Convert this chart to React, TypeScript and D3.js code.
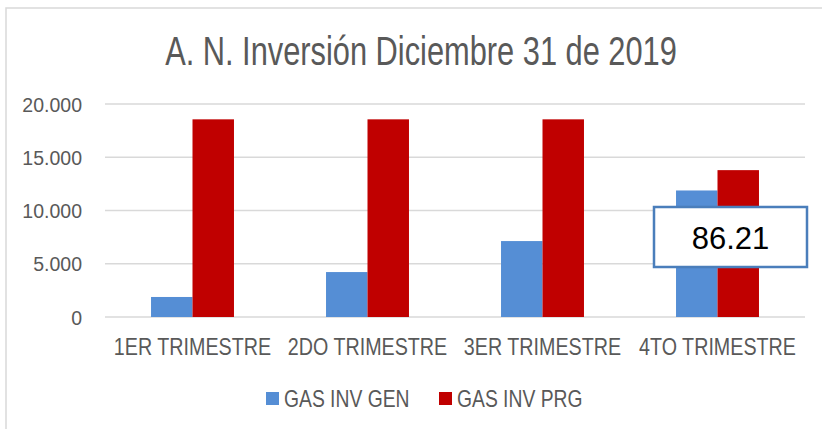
import { useMemo } from "react";
import * as d3 from "d3";

const WIDTH = 822;
const HEIGHT = 429;
const MARGIN = { top: 104, right: 17, bottom: 112, left: 105 };

const TITLE = "A. N. Inversión Diciembre 31 de 2019";
const categories = ["1ER TRIMESTRE", "2DO TRIMESTRE", "3ER TRIMESTRE", "4TO TRIMESTRE"];
const seriesNames = ["GAS INV GEN", "GAS INV PRG"];
const gasInvGen = [1880, 4220, 7130, 11880];
const gasInvPrg = [18560, 18560, 18560, 13790];
const yTicks = [0, 5000, 10000, 15000, 20000];
const COLORS = ["#558ed5", "#c00000"];
const callout = "86.21";

const FONT = "'Liberation Sans', Arial, sans-serif";
const TEXT_COLOR = "#595959";

const fmt = (v: number) => (v === 0 ? "0" : d3.format(",.3f")(v / 1000).replace(",", ""));

// no narrow font installed, so squeeze regular text horizontally
type TxtProps = {
  x: number;
  y: number;
  size: number;
  sx: number;
  anchor?: "start" | "middle" | "end";
  fill?: string;
  children: string;
};
const Txt = ({ x, y, size, sx, anchor = "start", fill = TEXT_COLOR, children }: TxtProps) => (
  <g transform={`translate(${x},${y}) scale(${sx},1)`}>
    <text textAnchor={anchor} fontFamily={FONT} fontSize={size} fill={fill}>
      {children}
    </text>
  </g>
);

export default function App() {
  const boundsWidth = WIDTH - MARGIN.left - MARGIN.right;
  const boundsHeight = HEIGHT - MARGIN.top - MARGIN.bottom;

  const xScale = useMemo(
    () => d3.scaleBand().domain(categories).range([0, boundsWidth]).paddingInner(0.526).paddingOuter(0.263),
    [boundsWidth]
  );
  const xSub = useMemo(
    () => d3.scaleBand().domain(seriesNames).range([0, xScale.bandwidth()]),
    [xScale]
  );
  const yScale = useMemo(
    () => d3.scaleLinear().domain([0, 20000]).range([boundsHeight, 0]),
    [boundsHeight]
  );

  const series = [gasInvGen, gasInvPrg];

  const lastCat = categories[3];
  const boxCx = MARGIN.left + (xScale(lastCat) ?? 0) + xScale.bandwidth() / 2 + 12.5;

  return (
    <svg
      width={WIDTH}
      height={HEIGHT}
      style={{ position: "absolute", left: 0, top: 0, display: "block", background: "#fff" }}
    >
      <rect x={6} y={8} width={WIDTH} height={HEIGHT} fill="#fff" stroke="#d9d9d9" strokeWidth={1.5} />
      <Txt x={421} y={65} size={40} sx={0.77} anchor="middle">
        {TITLE}
      </Txt>
      <g transform={`translate(${MARGIN.left},${MARGIN.top})`}>
        {yTicks.map((t) => (
          <g key={t}>
            <line x1={0} x2={boundsWidth} y1={yScale(t)} y2={yScale(t)} stroke="#d9d9d9" strokeWidth={1.5} />
            <Txt x={-23} y={yScale(t) + 7.5} size={21} sx={0.93} anchor="end">
              {fmt(t)}
            </Txt>
          </g>
        ))}
        {categories.map((c, i) => (
          <g key={c} transform={`translate(${xScale(c)},0)`}>
            {seriesNames.map((s, j) => {
              const v = series[j][i];
              return (
                <rect
                  key={s}
                  x={xSub(s)}
                  y={yScale(v)}
                  width={xSub.bandwidth()}
                  height={boundsHeight - yScale(v)}
                  fill={COLORS[j]}
                />
              );
            })}
            <Txt x={xScale.bandwidth() / 2} y={boundsHeight + 38} size={23} sx={0.857} anchor="middle">
              {c}
            </Txt>
          </g>
        ))}
      </g>
      <g>
        <rect
          x={boxCx - 76}
          y={207}
          width={153}
          height={60}
          fill="#fff"
          stroke="#4a7ebb"
          strokeWidth={2.5}
        />
        <text
          x={boxCx + 0.5}
          y={249}
          textAnchor="middle"
          fontFamily={FONT}
          fontSize={31}
          fill="#000"
        >
          {callout}
        </text>
      </g>
      <g>
        {seriesNames.map((s, j) => {
          const lx = [266, 439][j];
          return (
            <g key={s}>
              <rect x={lx} y={392} width={13} height={13} fill={COLORS[j]} />
              <Txt x={lx + 18} y={407} size={23} sx={0.84}>
                {s}
              </Txt>
            </g>
          );
        })}
      </g>
    </svg>
  );
}
